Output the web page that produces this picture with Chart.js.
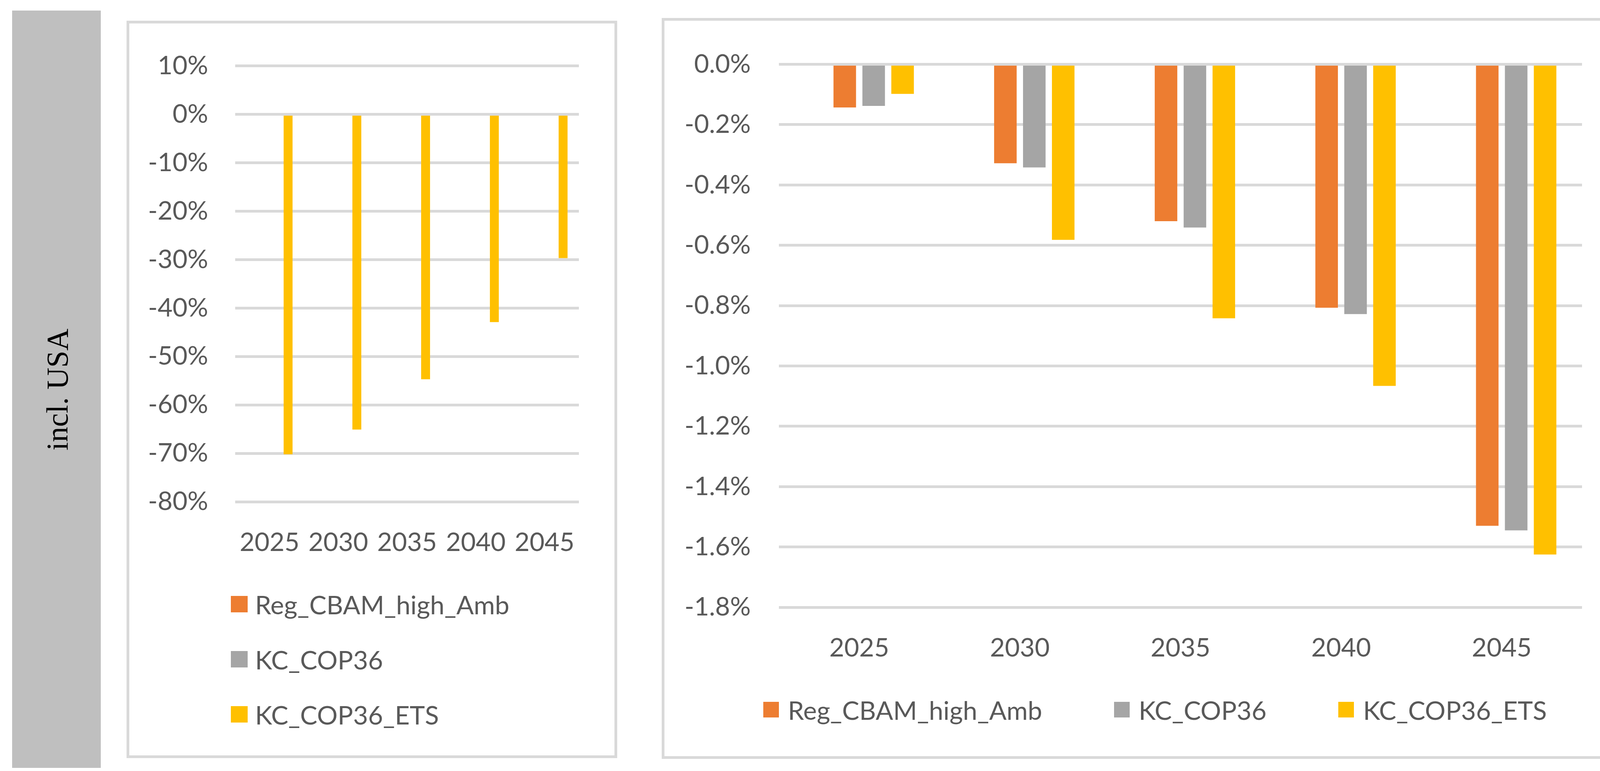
<!DOCTYPE html>
<html>
<head>
<meta charset="utf-8">
<script src="https://cdn.jsdelivr.net/npm/chart.js@4.4.1/dist/chart.umd.min.js"></script>
<style>
  body { margin: 0; width: 4173px; height: 1973px; background: #fff; position: relative; overflow: hidden; font-family: Lato, 'Open Sans', sans-serif; }
  .strip { position: absolute; left: 31px; top: 27px; width: 227px; height: 1938px; background: #bfbfbf; }
  .rowlabel { position: absolute; left: 147px; top: 997px; transform: translate(-50%, -50%) rotate(-90deg); font-family: 'Liberation Serif', 'DejaVu Serif', serif; font-size: 78px; color: #000; white-space: nowrap; }
  .box { position: absolute; border: 7px solid #d9d9d9; box-sizing: border-box; background: #fff; }
  .legend { position: absolute; color: #595959; font-size: 66px; white-space: nowrap; }
  .item { display: flex; align-items: center; }
  .swatch { display: inline-block; }
</style>
</head>
<body>
<div class="strip"></div>
<div class="rowlabel">incl. USA</div>

<div class="box" style="left:324px; top:53px; width:1256px; height:1887px;">
  <canvas id="chartLeft" width="1242" height="1873"></canvas>
</div>
<div class="box" style="left:1694px; top:46px; width:2452px; height:1896px;">
  <canvas id="chartRight" width="2438" height="1882"></canvas>
</div>

<div id="legendLeft" class="legend" style="left:591px; top:1500px;"></div>
<div id="legendRight" class="legend" style="left:1954px; top:1774px; display:flex;"></div>

<script>
var years = ['2025', '2030', '2035', '2040', '2045'];
var seriesNames = ['Reg_CBAM_high_Amb', 'KC_COP36', 'KC_COP36_ETS'];
var seriesColors = ['#ED7D31', '#A5A5A5', '#FFC000'];

// left panel, in %
var leftReg = [null, null, null, null, null];
var leftKC = [null, null, null, null, null];
var leftETS = [-70.2, -65.1, -54.7, -42.9, -29.7];

// right panel, in %
var rightReg = [-0.143, -0.328, -0.520, -0.807, -1.530];
var rightKC = [-0.138, -0.342, -0.541, -0.828, -1.545];
var rightETS = [-0.098, -0.582, -0.842, -1.066, -1.625];

// empty first slot (the original chart keeps one blank series on the left of each group)
var blank = [null, null, null, null, null];

var leftAxis = { min: -80, max: 10, step: 10 };
var rightAxis = { min: -1.8, max: 0, step: 0.2 };

var tickFont = { family: 'Lato', size: 66 };
var textColor = '#595959';

function makeDatasets(values, barPct) {
  var sets = [{ label: '', data: blank, backgroundColor: 'transparent', barPercentage: barPct, categoryPercentage: 0.72 }];
  values.forEach(function(v, i) {
    sets.push({
      label: seriesNames[i],
      data: v,
      backgroundColor: seriesColors[i],
      barPercentage: barPct,
      categoryPercentage: 0.72
    });
  });
  return sets;
}

function makeOptions(axis, yWidth, yPad, pad, fmt) {
  return {
    responsive: false,
    animation: false,
    layout: { padding: pad },
    plugins: { legend: { display: false }, tooltip: { enabled: false } },
    scales: {
      x: {
        grid: { display: false },
        border: { display: false },
        ticks: { color: textColor, font: tickFont, padding: 57, maxRotation: 0, autoSkip: false },
        afterFit: function(scale) { scale.height = 200; }
      },
      y: {
        min: axis.min,
        max: axis.max,
        grid: { color: '#d9d9d9', lineWidth: 7, drawTicks: false },
        border: { display: false },
        ticks: {
          stepSize: axis.step,
          color: textColor,
          font: tickFont,
          padding: yPad,
          callback: fmt
        },
        afterFit: function(scale) { scale.width = yWidth; }
      }
    }
  };
}

// Graphique gauche
new Chart(document.getElementById('chartLeft'), {
  type: 'bar',
  data: { labels: years, datasets: makeDatasets([leftReg, leftKC, leftETS], 0.72) },
  options: makeOptions(leftAxis, 271, 69, { top: 88, right: 91, bottom: 449, left: 0 },
    function(value) { return Math.round(value) + '%'; })
});

// Graphique droit
new Chart(document.getElementById('chartRight'), {
  type: 'bar',
  data: { labels: years, datasets: makeDatasets([rightReg, rightKC, rightETS], 0.78) },
  options: makeOptions(rightAxis, 293, 72, { top: 89, right: 89, bottom: 181, left: 0 },
    function(value) { return value.toFixed(1) + '%'; })
});

// legends
var legL = document.getElementById('legendLeft');
var legR = document.getElementById('legendRight');
seriesNames.forEach(function(name, i) {
  var a = document.createElement('div');
  a.className = 'item';
  a.style.height = '92px';
  a.style.marginBottom = '49px';
  a.innerHTML = '<span class="swatch" style="width:43px;height:42px;background:' + seriesColors[i] + ';margin-right:19px"></span>' + name;
  legL.appendChild(a);

  var b = document.createElement('div');
  b.className = 'item';
  b.style.height = '84px';
  b.style.marginRight = i < seriesNames.length - 1 ? '184px' : '0';
  b.innerHTML = '<span class="swatch" style="width:40px;height:40px;background:' + seriesColors[i] + ';margin-right:23px"></span>' + name;
  legR.appendChild(b);
});
</script>
</body>
</html>
